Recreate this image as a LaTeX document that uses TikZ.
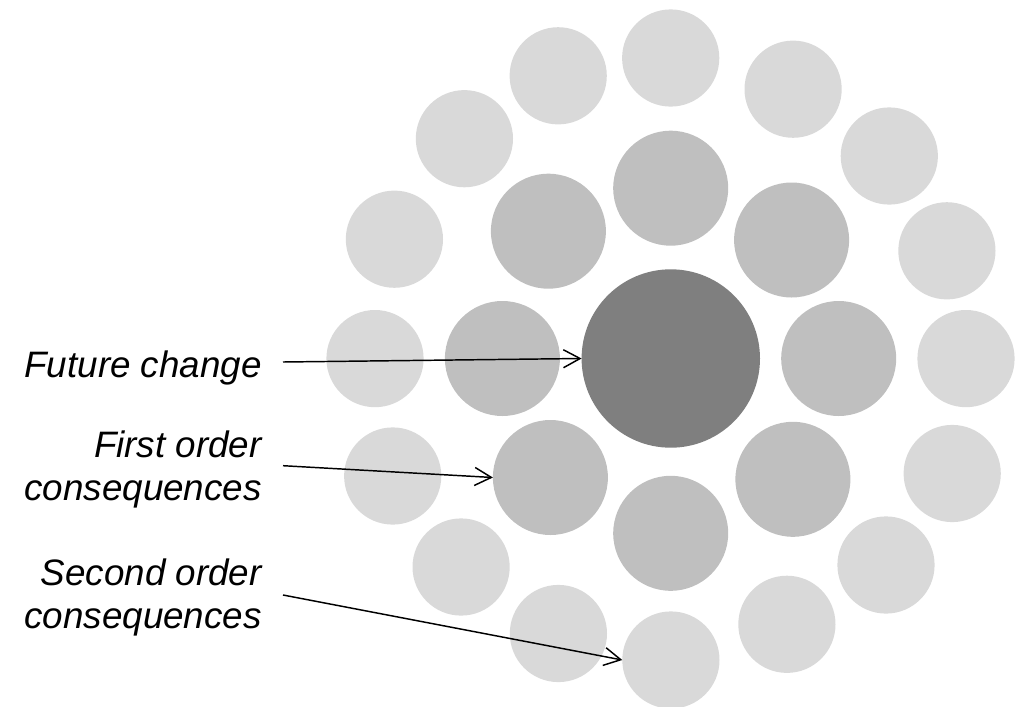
\documentclass[tikz,border=0pt]{standalone}
\usepackage{fontspec}
\newfontfamily\labfont{Liberation Sans}
\usetikzlibrary{arrows.meta}
\definecolor{outerc}{RGB}{217,217,217}
\definecolor{innerc}{RGB}{191,191,191}
\definecolor{corec}{RGB}{127,127,127}
\begin{document}
\begin{tikzpicture}[x=0.75pt,y=-0.75pt,
  outerdot/.style={circle,fill=outerc,draw=none,inner sep=0pt,outer sep=0pt,minimum size=72.9pt},
  innerdot/.style={circle,fill=innerc,draw=none,inner sep=0pt,outer sep=0pt,minimum size=86.25pt},
  coredot/.style={circle,fill=corec,draw=none,inner sep=0pt,outer sep=0pt,minimum size=133.8pt},
  lab/.style={font=\labfont\itshape\fontsize{27.6pt}{31.7pt}\selectfont,align=right,inner sep=0pt,anchor=base east},
  pointer/.style={draw=black,line width=1.1pt,-{Straight Barb[length=12.5pt,width=13.5pt,line width=1.1pt]}}
]
\useasboundingbox (0,0) rectangle (1025,707);
% outer ring
\node[outerdot] (o1) at (670.7,58) {};
\node[outerdot] (o2) at (558.2,75.8) {};
\node[outerdot] (o3) at (464.4,138.7) {};
\node[outerdot] (o4) at (394.4,239.2) {};
\node[outerdot] (o5) at (375,358.6) {};
\node[outerdot] (o6) at (392.7,476) {};
\node[outerdot] (o7) at (461.1,567) {};
\node[outerdot] (o8) at (558.4,633.5) {};
\node[outerdot] (o9) at (670.9,660) {};
\node[outerdot] (o10) at (786.9,624.3) {};
\node[outerdot] (o11) at (886,565) {};
\node[outerdot] (o12) at (952.2,473.5) {};
\node[outerdot] (o13) at (966,358.6) {};
\node[outerdot] (o14) at (946.9,250.8) {};
\node[outerdot] (o15) at (889.3,156) {};
\node[outerdot] (o16) at (793.1,89.2) {};
% inner ring
\node[innerdot] (i1) at (670.7,188.2) {};
\node[innerdot] (i2) at (548.4,231.2) {};
\node[innerdot] (i3) at (502.4,358.5) {};
\node[innerdot] (i4) at (550.4,477.5) {};
\node[innerdot] (i5) at (670.7,533.3) {};
\node[innerdot] (i6) at (792.9,479.3) {};
\node[innerdot] (i7) at (838.7,358.5) {};
\node[innerdot] (i8) at (791.6,240) {};
% core
\node[coredot] (core) at (670.8,358.5) {};
% labels
\node[lab] (lfc) at (262,377) {Future change};
\node[lab] (lfo) at (262,500) {First order\\consequences};
\node[lab] (lso) at (262,628) {Second order\\consequences};
\coordinate (sfc) at (283,362);
\coordinate (sfo) at (283,465.7);
\coordinate (sso) at (283,595);
\draw[pointer] (sfc) -- (core.west);
\draw[pointer] (sfo) -- (i4.west);
\draw[pointer] (sso) -- (o9.west);
\end{tikzpicture}
\end{document}
